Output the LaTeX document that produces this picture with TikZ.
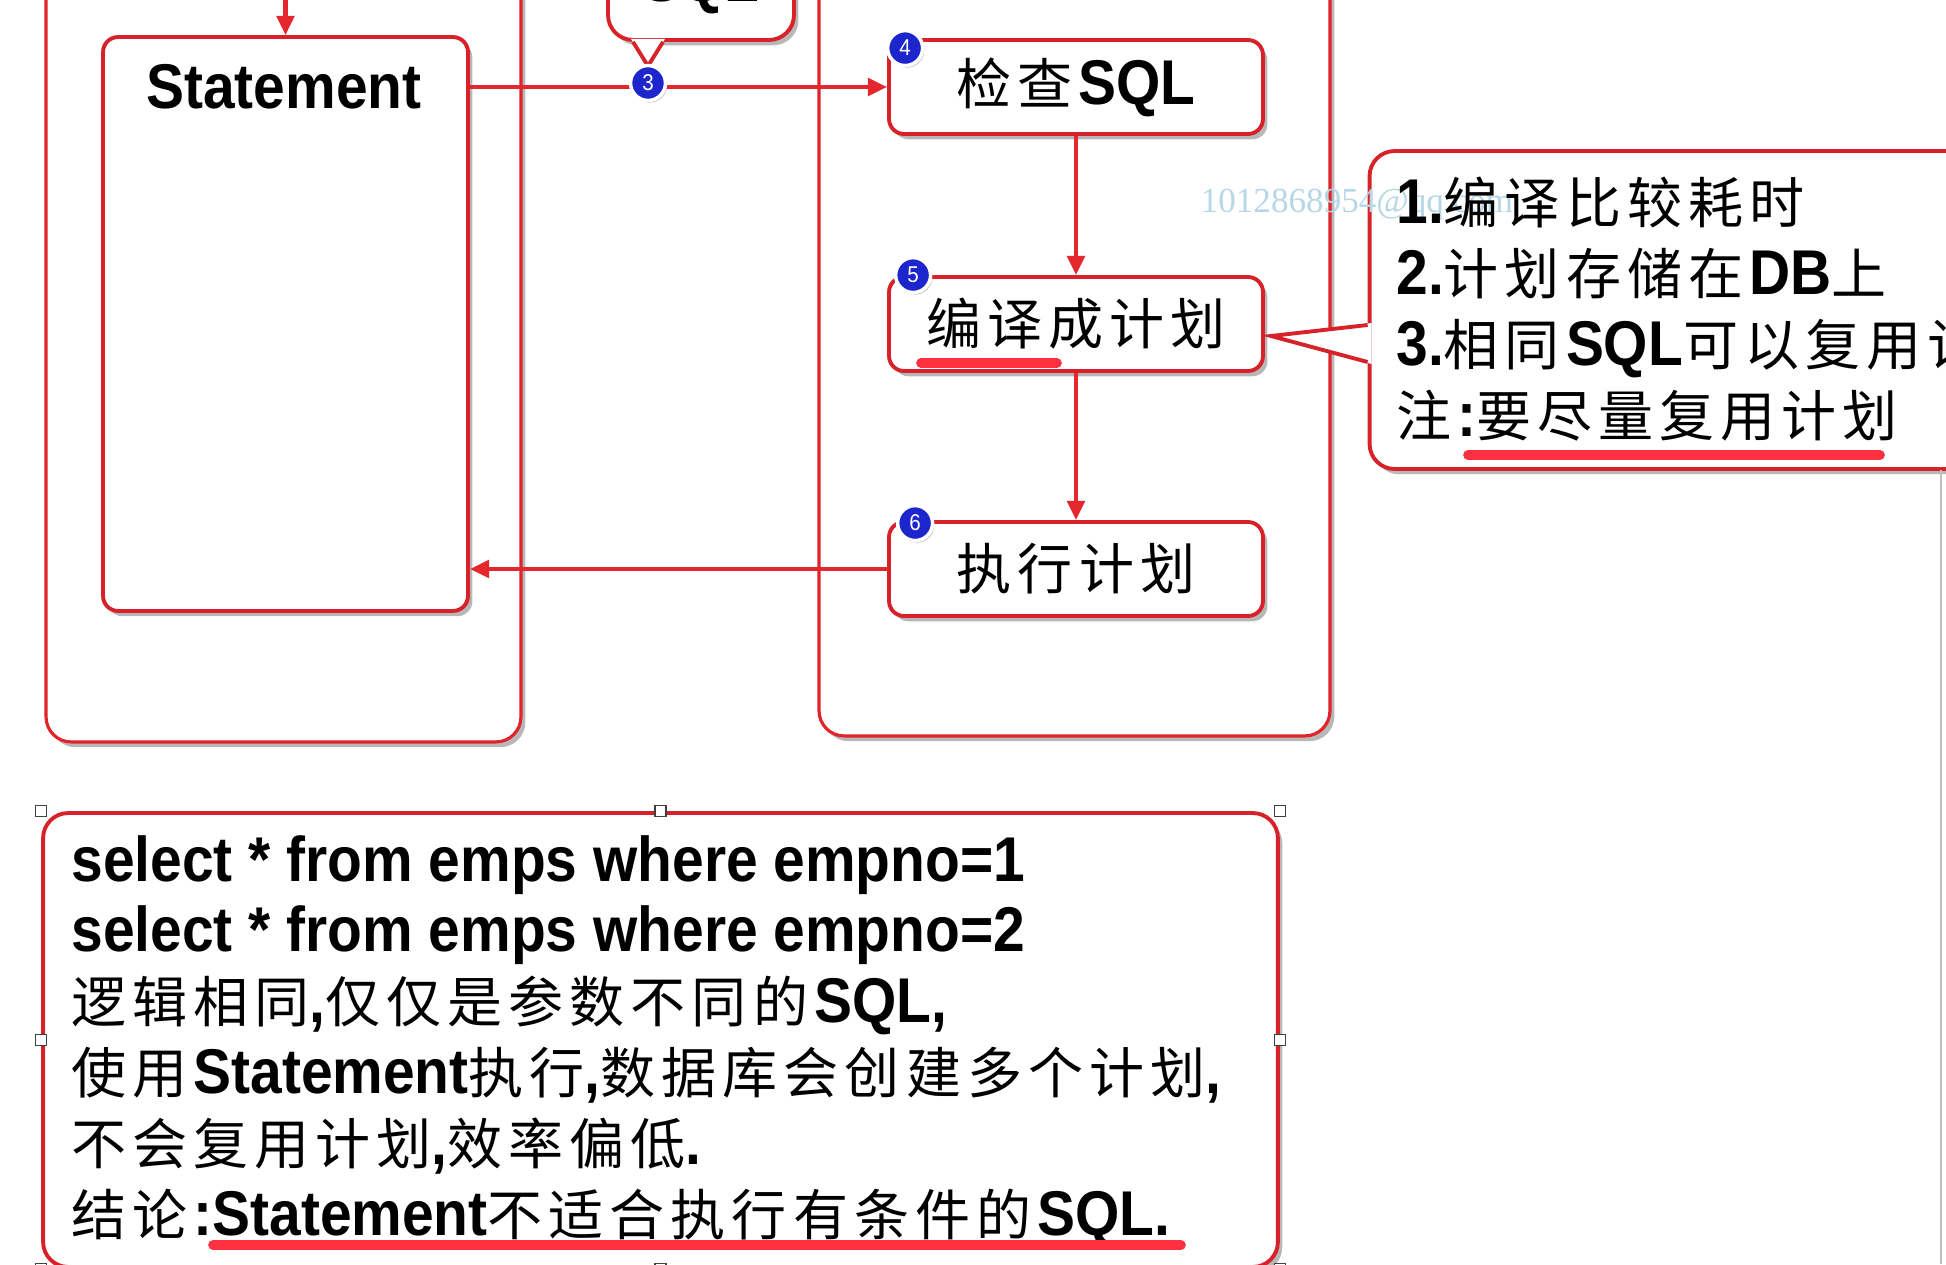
\documentclass[tikz,border=0pt]{standalone}
\usepackage{fontspec}
\setmainfont{Liberation Sans}[FakeStretch=0.9]
\newfontfamily\cjk{Noto Sans CJK SC}[Scale=0.87, LetterSpace=11]
\newfontfamily\wmfont{Liberation Serif}
\usepackage{tikz}
\usetikzlibrary{arrows.meta, calc, shadows}
\definecolor{lanecol}{HTML}{E0242B}
\definecolor{boxcol}{HTML}{D8222A}
\definecolor{flowcol}{HTML}{E5262C}
\definecolor{markcol}{HTML}{FF3040}
\definecolor{badgecol}{HTML}{1C26CC}
\definecolor{wmcol}{HTML}{B7D7E6}
\newcommand{\zh}[1]{{\cjk #1}}
\newcommand{\mainsize}{\fontsize{36pt}{40.4pt}\selectfont}

\begin{document}
\begin{tikzpicture}[x=0.02cm, y=-0.02cm,
    boxshadow/.style={drop shadow={shadow xshift=2.5pt, shadow yshift=-3pt,
                      opacity=.35, fill=black!80}},
    lane/.style={draw=lanecol, line width=1.8pt, rounded corners=0.5cm,
                 fill=white, boxshadow},
    stepbox/.style={draw=boxcol, line width=2.2pt, rounded corners=0.3cm,
                    fill=white, boxshadow, minimum width=7.48cm,
                    minimum height=1.88cm, font=\mainsize},
    notebox/.style={draw=boxcol, line width=2.2pt, rounded corners=0.5cm,
                    fill=white, boxshadow},
    textline/.style={anchor=base west, inner sep=0pt, font=\mainsize},
    badge/.style={circle, fill=badgecol, draw=white, line width=2pt,
                  text=white, inner sep=0pt, minimum size=0.7cm,
                  font=\fontsize{13pt}{13pt}\selectfont,
                  drop shadow={shadow xshift=1pt, shadow yshift=-1.2pt, opacity=.45}},
    flow/.style={-{Triangle[length=11pt, width=10pt]}, draw=flowcol, line width=2.4pt},
    redline/.style={draw=markcol, line width=5.5pt, line cap=round},
    handle/.style={draw=black!75, fill=white, line width=0.6pt,
                   minimum size=0.22cm, inner sep=0pt}
  ]

  \path[use as bounding box] (0,0) rectangle (1946,1264);
  \clip (0,0) rectangle (1946,1264);

  % ---- Swim lanes ----
  \node[lane, minimum width=9.5cm, minimum height=15.64cm] (clientlane) at (283.5,351) {};
  \node[lane, minimum width=10.22cm, minimum height=15.52cm] (dblane) at (1074.5,348) {};

  % ---- Statement object ----
  \node[stepbox, minimum width=7.3cm, minimum height=11.48cm] (stmt) at (285.5,324) {};
  \node[font=\mainsize\bfseries, inner sep=0pt] (stmttitle) at (284,87) {Statement};

  % ---- Database steps ----
  \node[stepbox] (check) at (1076,87) {\zh{检查}\textbf{SQL}};
  \node[stepbox] (compile) at (1076,324) {\zh{编译成计划}};
  \node[stepbox] (exec) at (1076,569) {\zh{执行计划}};
  \draw[redline] (921,363) -- (1057,363);

  % ---- SQL callout (cut at top) ----
  \node[notebox, minimum width=3.72cm, minimum height=2.08cm] (sqltip) at (701,-12) {};
  \node[font=\mainsize\bfseries, inner sep=0pt] (sqltext) at (701,-14) {SQL};
  \coordinate (sqltipend) at (648,66);
  \fill[white] ($(sqltip.south)+(-70,-3)$) -- (sqltipend) -- ($(sqltip.south)+(-36,-3)$) -- cycle;
  \draw[draw=boxcol, line width=2.2pt]
    ($(sqltip.south)+(-68,0)$) -- (sqltipend) -- ($(sqltip.south)+(-38,0)$);

  % ---- Connectors ----
  \coordinate (topin) at (285.5,-10);
  \draw[flow] (topin) -- (stmt.north);
  \draw[flow] (stmt.east |- check.west) -- (check.west);
  \draw[flow] (check.south) -- (compile.north);
  \draw[flow] (compile.south) -- (exec.north);
  \draw[flow] (exec.west) -- (exec.west -| stmt.east);

  % ---- Step badges ----
  \node[badge] (badge3) at (648,83) {3};
  \node[badge] (badge4) at ($(check.north west)+(18,10)$) {4};
  \node[badge] (badge5) at ($(compile.north west)+(26,0)$) {5};
  \node[badge] (badge6) at ($(exec.north west)+(28,3)$) {6};

  % ---- Note on compiled plans ----
  \node[notebox, minimum width=12.42cm, minimum height=6.36cm] (note) at (1680,310) {};
  \fill[white] ($(note.west)+(4,13)$) -- ($(compile.east)+(6,12)$) -- ($(note.west)+(4,54)$) -- cycle;
  \draw[draw=boxcol, line width=2.2pt]
    ($(note.west)+(0,15)$) -- ($(compile.east)+(6,12)$) -- ($(note.west)+(0,52)$);
  \node[font=\wmfont\fontsize{20pt}{20pt}\selectfont, text=wmcol, inner sep=0pt]
    (watermark) at (1357,205) {1012868954@qq.com};
  \foreach \txt [count=\i] in {
      {\textbf{1.}\zh{编译比较耗时}},
      {\textbf{2.}\zh{计划存储在}\textbf{DB}\zh{上}},
      {\textbf{3.}\zh{相同}\textbf{SQL}\zh{可以复用计划}},
      {\zh{注}\textbf{:}\zh{要尽量复用计划}}} {
    \node[textline] (noteline-\i) at (1396, {223+71*(\i-1)}) {\txt};
  }
  \draw[redline] (1468,455) -- (1880,455);

  % ---- Summary box (selected) ----
  \node[notebox, minimum width=24.7cm, minimum height=9.08cm] (summary) at (660.5,1040) {};
  \foreach \txt [count=\i] in {
      {\textbf{select * from emps where empno=1}},
      {\textbf{select * from emps where empno=2}},
      {\zh{逻辑相同}\textbf{,}\zh{仅仅是参数不同的}\textbf{SQL,}},
      {\zh{使用}\textbf{Statement}\zh{执行}\textbf{,}\zh{数据库会创建多个计划}\textbf{,}},
      {\zh{不会复用计划}\textbf{,}\zh{效率偏低}\textbf{.}},
      {\zh{结论}\textbf{:Statement}\zh{不适合执行有条件的}\textbf{SQL.}}} {
    \node[textline] (sumline-\i) at (71, {881+70.8*(\i-1)}) {\txt};
  }
  \draw[redline] (213,1245) -- (1181,1245);
  \foreach \a [count=\i] in {north west, north, north east, west, east,
                             south west, south, south east}
    \node[handle] (handle-\i) at (summary.\a) {};

  % window edge
  \draw[black!25, line width=1pt] (1941,470) -- (1941,1264);

\end{tikzpicture}
\end{document}
